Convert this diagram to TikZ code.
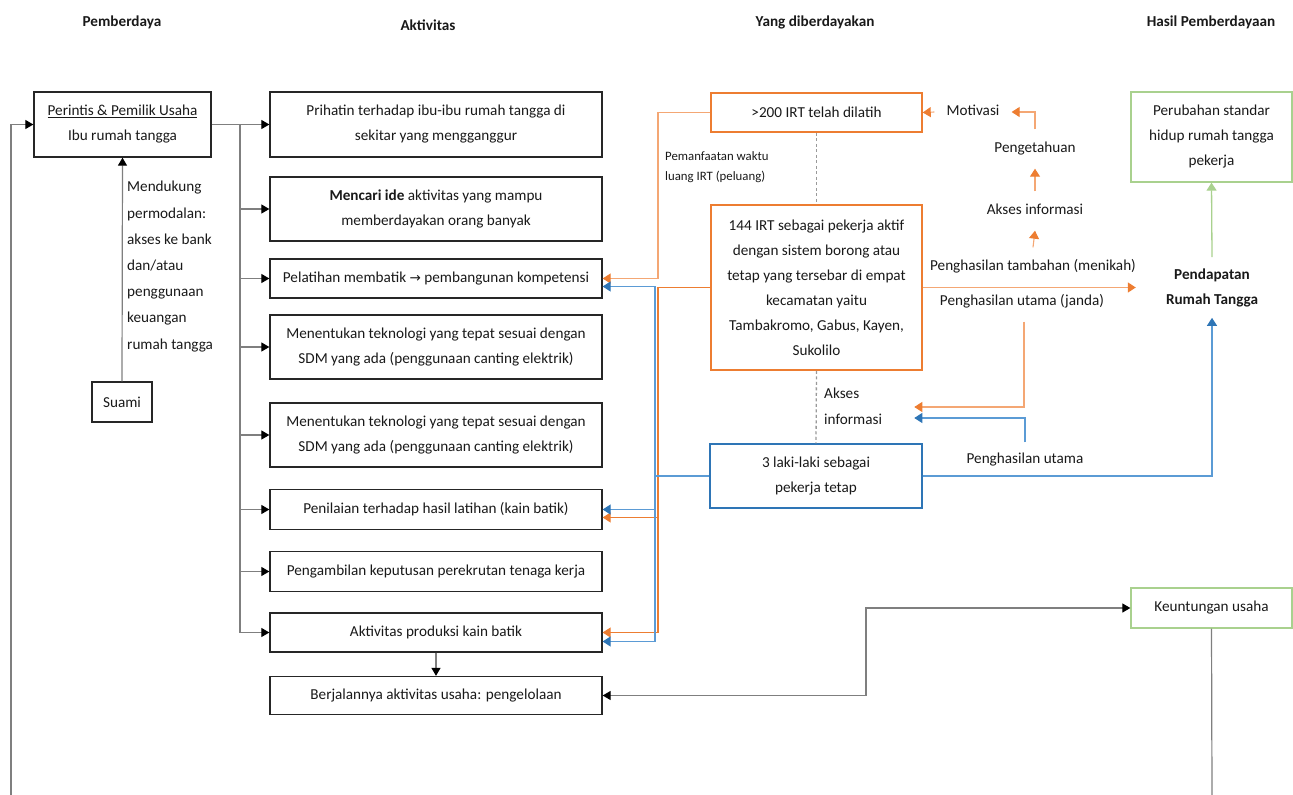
\documentclass[tikz,border=0pt]{standalone}
\usepackage{fontspec}
\setmainfont{Carlito}
\newfontfamily\symfont{DejaVu Sans}
\usetikzlibrary{arrows.meta,calc}

\definecolor{orng}{HTML}{ED7D31}
\definecolor{lorng}{HTML}{F4A774}
\definecolor{blu}{HTML}{2E75B6}
\definecolor{lblu}{HTML}{5B9BD5}
\definecolor{grn}{HTML}{A9D18E}
\definecolor{connc}{HTML}{7F7F7F}

\begin{document}
\begin{tikzpicture}[x=1pt,y=-1pt,
  every node/.style={font=\fontsize{15.2}{25}\selectfont, inner sep=0pt, text=black!90},
  actbox/.style={draw=black!85, line width=1.3pt, minimum width=332pt, align=center},
  obox/.style={draw=orng, line width=1.5pt, minimum width=211pt, align=center},
  bbox/.style={draw=blu, line width=1.5pt, minimum width=212pt, align=center},
  gbox/.style={draw=grn, line width=1.3pt, minimum width=161pt, align=center},
  hdr/.style={font=\fontsize{15.2}{18}\selectfont\bfseries},
  tag/.style={text height=11pt, text depth=4pt, inner xsep=12pt, inner ysep=12pt},
  gline/.style={draw=connc, line width=1.2pt},
  oline/.style={draw=orng, line width=1.1pt},
  loline/.style={draw=lorng, line width=1.1pt},
  lbline/.style={draw=lblu, line width=1.1pt},
  grline/.style={draw=grn, line width=1.3pt},
  dotl/.style={draw=black!40, line width=1.3pt, dash pattern=on 3pt off 2.5pt},
  garr/.style={-{Triangle[length=8pt,width=9pt,color=black]}},
  oarr/.style={-{Triangle[length=8pt,width=10pt,color=orng]}},
  barr/.style={-{Triangle[length=8pt,width=10pt,color=blu]}},
  grarr/.style={-{Triangle[length=8pt,width=10pt,color=grn]}},
]
\useasboundingbox (0,0) rectangle (1293,795);

% column headings
\node[hdr] (h1) at (122,22) {Pemberdaya};
\node[hdr] (h2) at (428,25) {Aktivitas};
\node[hdr] (h3) at (815,22) {Yang diberdayakan};
\node[hdr] (h4) at (1211,22) {Hasil Pemberdayaan};

% empowering side
\node[draw=black!85, line width=1.3pt, minimum width=177pt, minimum height=65pt, align=center]
  (own) at (122.5,124.5) {\underline{Perintis \& Pemilik Usaha}\\Ibu rumah tangga};
\node[draw=black!85, line width=1.3pt, minimum width=60pt, minimum height=40pt]
  (suami) at (122,402) {Suami};
\node[align=left, anchor=west, font=\fontsize{15.2}{26.2}\selectfont] (supp) at (127,266.5)
  {Mendukung\\permodalan:\\akses ke bank\\dan/atau\\penggunaan\\keuangan\\rumah tangga};

% activities
\node[actbox, minimum height=65pt] (a1) at (436,124.5) {Prihatin terhadap ibu-ibu rumah tangga di\\sekitar yang mengganggur};
\node[actbox, minimum height=64pt] (a2) at (436,209) {\textbf{Mencari ide} aktivitas yang mampu\\memberdayakan orang banyak};
\node[actbox, minimum height=39pt] (a3) at (436,278.5) {Pelatihan membatik {\symfont\fontsize{13.5}{25}\selectfont →} pembangunan kompetensi};
\node[actbox, minimum height=64pt] (a4) at (436,347) {Menentukan teknologi yang tepat sesuai dengan\\SDM yang ada (penggunaan canting elektrik)};
\node[actbox, minimum height=64pt] (a5) at (436,435) {Menentukan teknologi yang tepat sesuai dengan\\SDM yang ada (penggunaan canting elektrik)};
\node[actbox, minimum height=40pt] (a6) at (436,509.5) {Penilaian terhadap hasil latihan (kain batik)};
\node[actbox, minimum height=40pt] (a7) at (436,571.5) {Pengambilan keputusan perekrutan tenaga kerja};
\node[actbox, minimum height=39pt] (a8) at (436,632.5) {Aktivitas produksi kain batik};
\node[actbox, minimum height=38pt] (berj) at (436,695.5) {Berjalannya aktivitas usaha: pengelolaan};

% empowered groups
\node[obox, minimum height=39pt] (t200) at (816.5,112.5) {>200 IRT telah dilatih};
\node[obox, minimum height=165pt] (w144) at (816.5,287.5)
  {144 IRT sebagai pekerja aktif\\dengan sistem borong atau\\tetap yang tersebar di empat\\kecamatan yaitu\\Tambakromo, Gabus, Kayen,\\Sukolilo};
\node[bbox, minimum height=64pt] (b3) at (816,476) {3 laki-laki sebagai\\pekerja tetap};
\node[align=left, anchor=west, font=\fontsize{12.8}{20}\selectfont] (luang) at (665,167)
  {Pemanfaatan waktu\\luang IRT (peluang)};
\node[align=left, anchor=west, font=\fontsize{15.2}{26}\selectfont] (aksesM) at (824,406)
  {Akses\\informasi};

% benefit chain
\node[tag] (motiv) at (973,112) {Motivasi};
\node[tag] (peng) at (1035,149) {Pengetahuan};
\node[tag] (akses) at (1035,211) {Akses informasi};
\node[tag] (tamb) at (1033,267) {Penghasilan tambahan (menikah)};
\node[tag] (utama) at (1022,302) {Penghasilan utama (janda)};
\node[tag, inner ysep=10pt] (utamaB) at (1025,460) {Penghasilan utama};

% results
\node[gbox, minimum height=90pt] (perub) at (1211.5,137) {Perubahan standar\\hidup rumah tangga\\pekerja};
\node[align=center, font=\fontsize{15.2}{25}\selectfont\bfseries, inner sep=11pt] (pend) at (1212,287.5)
  {Pendapatan\\Rumah Tangga};
\node[gbox, minimum height=40pt] (keun) at (1211.5,608) {Keuntungan usaha};

% free ends and routing columns
\coordinate (bus) at (240,0);
\coordinate (ox) at (658,0);
\coordinate (bx) at (655,0);
\coordinate (kx) at (866,0);
\coordinate (loopL) at (11,795);
\coordinate (keunBot) at (1212,795);

% owner to activities
\draw[gline] (own.east) -- (bus |- own.east) -- (bus |- a8.west);
\foreach \n in {a1,a2,a3,a4,a5,a6,a7,a8}
  \draw[gline, garr] (bus |- \n.west) -- (\n.west);
\draw[gline, garr] (suami.north) -- (own.south);
\draw[gline, garr] (loopL) |- (own.west);
\draw[gline, garr] (a8.south) -- (berj.north);

% trained and active workers back to activities
\draw[loline, oarr] (t200.west) -| (ox |- a3.east) -- (a3.east);
\draw[oline, oarr] (w144.west) -| (ox |- a8.east) -- (a8.east);
\draw[oline, oarr] ($(ox |- a6.east)+(0,8)$) -- ($(a6.east)+(0,8)$);
\draw[lbline, barr] (b3.west) -| ($(bx |- a3.east)+(0,8)$) -- ($(a3.east)+(0,8)$);
\draw[lbline, barr] (b3.west) -| ($(bx |- a8.east)+(0,9)$) -- ($(a8.east)+(0,9)$);
\draw[lbline, barr] (bx |- a6.east) -- (a6.east);

% dotted links between groups
\draw[dotl] (t200.south) -- (w144.north);
\draw[dotl] (w144.south) -- (b3.north);

% income and knowledge chain
\draw[lorng, line width=1.3pt, oarr, shorten >=19pt] (w144.east) -- (pend.west);
\draw[loline, oarr] (tamb.north) -- (akses.south);
\draw[loline, oarr] (akses.north) -- (peng.south);
\draw[loline, oarr] (peng.north) |- (motiv.east);
\draw[loline, oarr] (motiv.west) -- (t200.east);
\draw[loline, oarr] ([xshift=2pt]utama.south) |- ($(aksesM.east)+(32,1)$);
\draw[lbline, barr] (utamaB.north) |- ($(aksesM.east)+(32,12)$);
\draw[lbline, barr] (b3.east) -| (pend.south);
\draw[grline, grarr] (pend.north) -- (perub.south);

% business profit loop
\draw[gline, {Triangle[length=8pt,width=9pt,color=black]}-{Triangle[length=8pt,width=9pt,color=black]}]
  (berj.east) -- (kx |- berj.east) -- (kx |- keun.west) -- (keun.west);
\draw[gline] (keun.south) -- (keunBot);
\end{tikzpicture}
\end{document}
